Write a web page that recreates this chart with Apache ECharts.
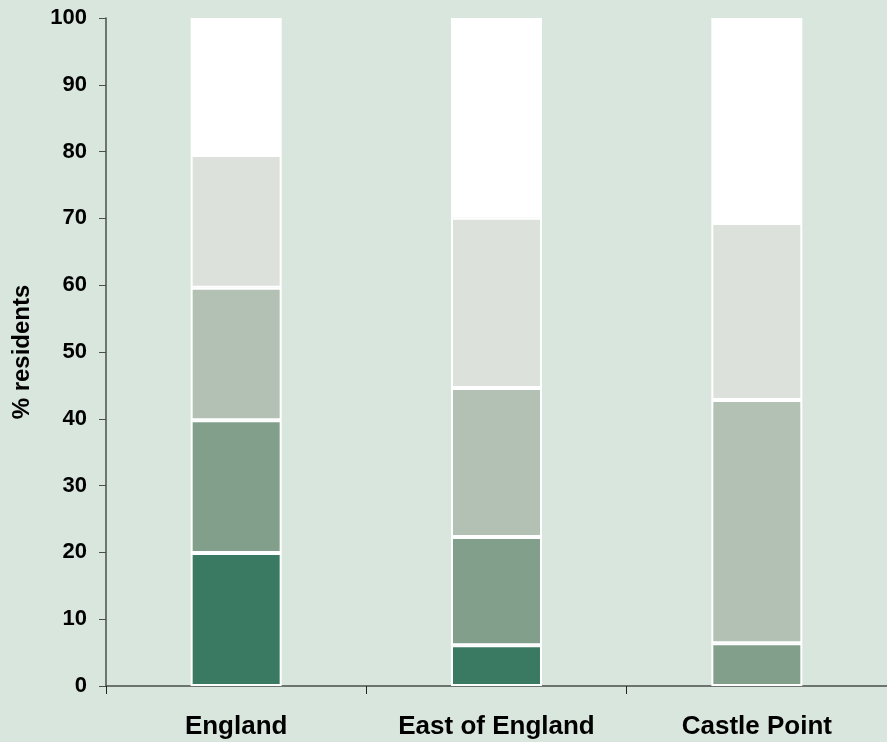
<!DOCTYPE html>
<html><head><meta charset="utf-8">
<script src="https://cdn.jsdelivr.net/npm/echarts@6/dist/echarts.min.js"></script>
<style>html,body{margin:0;padding:0;background:#d9e6dd;}#c{width:887px;height:742px;}</style>
</head><body><div id="c"></div>
<script>
const categories = ['England', 'East of England', 'Castle Point'];
const band1 = [19.9, 6.1, 0];
const band2 = [19.9, 16.2, 6.4];
const band3 = [19.8, 22.3, 36.4];
const band4 = [19.9, 25.5, 26.5];
const band5 = [20.5, 29.9, 30.7];
const yTicks = { min: 0, max: 100, interval: 10 };
const colors = ['#3b7a62', '#829f8c', '#b2c1b4', '#dce1dc', '#ffffff'];
const bands = [band1, band2, band3, band4, band5];
const FONT = 'Liberation Sans, Arial, sans-serif';

const chart = echarts.init(document.getElementById('c'));
chart.setOption({
  backgroundColor: '#d9e6dd',
  animation: false,
  grid: { left: 106, right: 0, top: 18, bottom: 56, containLabel: false, outerBoundsMode: 'none' },
  xAxis: {
    type: 'category', data: categories,
    axisLine: { lineStyle: { color: '#4a4f4b', width: 1.5 } },
    axisTick: { show: true, length: 8, lineStyle: { color: '#222' } },
    axisLabel: { margin: 28, color: '#000', fontWeight: 'bold', fontSize: 26, fontFamily: FONT }
  },
  yAxis: {
    type: 'value', min: yTicks.min, max: yTicks.max, interval: yTicks.interval,
    name: '% residents', nameLocation: 'middle', nameGap: 72, nameRotate: 90,
    nameTextStyle: { color: '#000', fontWeight: 'bold', fontSize: 24, fontFamily: FONT },
    axisLine: { show: true, lineStyle: { color: '#4a4f4b', width: 1.5 } },
    axisTick: { show: true, length: 7, lineStyle: { color: '#4a4f4b' } },
    splitLine: { show: false },
    axisLabel: { margin: 19, color: '#000', fontWeight: 'bold', fontSize: 22, fontFamily: FONT }
  },
  series: bands.map((d, i) => ({
    type: 'bar', stack: 'all', data: d.map(v => v === 0 ? '-' : v), barWidth: 91,
    itemStyle: { color: colors[i], borderColor: '#ffffff', borderWidth: 2 }
  }))
});
</script></body></html>
